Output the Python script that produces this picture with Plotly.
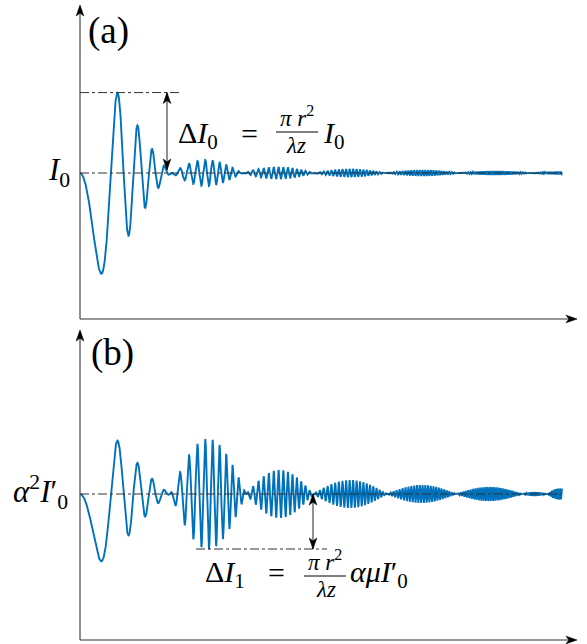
import math
import numpy as np
import plotly.graph_objects as go

# ---------------- data ----------------
rho_max = 482                 # last sampled radial position (arbitrary units, 0 = y axis)
fringe_scale = 950.0          # rho^2 per half fringe of the chirp sin(pi rho^2 / scale)
I0_level = 1.0                # normalised background intensity (I0 and alpha^2 I0')

# panel (a): zeros of the envelope and peak amplitude of each lobe (units of I0)
zeros_a = [91, 162, 234, 306, 379, 451]
lobes_a = [0.747, 0.087, 0.040, 0.027, 0.020, 0.013, 0.010]

# panel (b): zeros of the envelope and peak amplitude of each lobe
zeros_b = [90, 166, 233, 307, 376, 442, 467]
lobes_b = [0.500, 0.367, 0.160, 0.093, 0.060, 0.047, 0.013, 0.037]

label_a = "(a)"
label_b = "(b)"
ylabel_a = "<i>I</i><sub>0</sub>"
ylabel_b = "<i>α</i><sup>2</sup><i>I</i>′<sub>0</sub>"


# ---------------- helpers ----------------
def j1(t):
    s = np.zeros_like(t)
    for m in range(25):
        s += (-1) ** m * (t / 2.0) ** (2 * m + 1) / (math.factorial(m) * math.factorial(m + 1))
    return s


def envelope(rho, zeros, lobes):
    env = np.zeros_like(rho)
    z1 = zeros[0]
    m = rho <= z1
    t = 3.8317 * rho[m] / z1
    jinc = np.ones_like(t)
    nz = t > 0
    jinc[nz] = 2 * j1(t[nz]) / t[nz]
    env[m] = lobes[0] * jinc
    for i in range(len(zeros)):
        lo = zeros[i]
        hi = zeros[i + 1] if i + 1 < len(zeros) else zeros[i] + (zeros[i] - zeros[i - 1])
        mm = (rho > lo) & (rho <= hi)
        env[mm] = (-1) ** (i + 1) * lobes[i + 1] * np.sin(np.pi * (rho[mm] - lo) / (hi - lo))
    return env


rho = np.linspace(0, rho_max, 24000)
phase = np.pi * rho ** 2 / fringe_scale
Ia = I0_level - envelope(rho, zeros_a, lobes_a) * np.sin(phase)
Ib = I0_level - envelope(rho, zeros_b, lobes_b) * np.sin(phase)

peak_a = Ia.max()
lobe2 = (rho > zeros_b[0]) & (rho < zeros_b[1])
trough_b = Ib[lobe2].min()

# ---------------- layout geometry ----------------
W, H = 587, 644
ML, MR, MT, MB = 74, 4, 0, 0
PW = W - ML - MR
PX_PER_UNIT = 150.0
AXIS_X0 = 80                       # pixel column of the y axes
xr = [ML - AXIS_X0, W - MR - AXIS_X0]
X_END = 577 - AXIS_X0              # tip of the x-axis arrows


def xu(px):
    return px - AXIS_X0


def xp(px):
    return (px - ML) / PW


def ya(py):
    return I0_level + (173 - py) / PX_PER_UNIT


def yb(py):
    return I0_level + (494 - py) / PX_PER_UNIT


ya_rng = [ya(325), ya(0)]
yb_rng = [yb(644), yb(326)]
dom_a = [(H - 325) / H, 1.0]
dom_b = [0.0, (H - 326) / H]
a_axis, a_top = ya(319), ya(5)
b_axis, b_top = yb(640), yb(330)

BLUE = "#0072BD"
AX = "#333333"
FONT = "Liberation Serif"

fig = go.Figure()
fig.add_trace(go.Scatter(x=rho, y=Ia, mode="lines", line=dict(color=BLUE, width=1.9),
                         xaxis="x", yaxis="y", hoverinfo="skip", showlegend=False))
fig.add_trace(go.Scatter(x=rho, y=Ib, mode="lines", line=dict(color=BLUE, width=1.9),
                         xaxis="x2", yaxis="y2", hoverinfo="skip", showlegend=False))

shapes = []
dd = dict(color=AX, width=1, dash="dashdot")
solid = dict(color=AX, width=1.1)


def hline(xref, yref, x0, x1, y, line):
    shapes.append(dict(type="line", xref=xref, yref=yref, x0=x0, x1=x1, y0=y, y1=y, line=line, layer="above"))


def vline(xref, yref, x, y0, y1, line):
    shapes.append(dict(type="line", xref=xref, yref=yref, x0=x, x1=x, y0=y0, y1=y1, line=line, layer="above"))


# stealth arrowheads (pixel paths anchored at the tip)
HEADS = {
    "up": "M0,0 L-3.8,-11 L0,-8 L3.8,-11 Z",
    "down": "M0,0 L-3.8,11 L0,8 L3.8,11 Z",
    "right": "M0,0 L-11,3.8 L-8,0 L-11,-3.8 Z",
}


def head(xref, yref, x, y, kind):
    shapes.append(dict(type="path", xref=xref, yref=yref, xsizemode="pixel", ysizemode="pixel",
                       xanchor=x, yanchor=y, path=HEADS[kind], fillcolor="black",
                       line=dict(color="black", width=0.6), layer="above"))


# baselines and delta guide lines
hline("x", "y", 0, rho_max, I0_level, dd)
hline("x", "y", 0, xu(180), peak_a, dd)
hline("x2", "y2", 0, rho_max, I0_level, dd)
hline("x2", "y2", xu(196), xu(327), trough_b, dd)

# axes
hline("x", "y", 0, X_END - 4, a_axis, solid)
vline("x", "y", 0, a_axis, a_top - 4 / PX_PER_UNIT, solid)
head("x", "y", X_END, a_axis, "right")
head("x", "y", 0, a_top, "up")
hline("x2", "y2", 0, X_END - 4, b_axis, solid)
vline("x2", "y2", 0, b_axis, b_top - 4 / PX_PER_UNIT, solid)
head("x2", "y2", X_END, b_axis, "right")
head("x2", "y2", 0, b_top, "up")

# delta double arrows
da = I0_level + 3 / PX_PER_UNIT
vline("x", "y", xu(167), da, peak_a, dict(color="#222", width=1))
head("x", "y", xu(167), peak_a, "up")
head("x", "y", xu(167), da, "down")
vline("x2", "y2", xu(313), I0_level, trough_b, dict(color="#222", width=1))
head("x2", "y2", xu(313), I0_level, "up")
head("x2", "y2", xu(313), trough_b, "down")

# fraction bars
bar_a, bar_b = ya(132), yb(576)
hline("x", "y", xu(276), xu(318), bar_a, dict(color="black", width=1))
hline("x2", "y2", xu(304), xu(346), bar_b, dict(color="black", width=1))

ann = []


def text(t, x, y, xref, yref, size, xanchor="center", yanchor="middle"):
    ann.append(dict(text=t, x=x, y=y, xref=xref, yref=yref, showarrow=False,
                    xanchor=xanchor, yanchor=yanchor, borderpad=0,
                    font=dict(family=FONT, size=size, color="black")))


text(label_a, xu(108), ya(31), "x", "y", 37)
text(label_b, xu(112), yb(353), "x2", "y2", 37)
text(ylabel_a, xp(71), ya(172), "paper", "y", 31, "right")
text(ylabel_b, xp(69), yb(492), "paper", "y2", 31, "right")

# formula (a)
text("Δ<i>I</i><sub>0</sub>", xu(177), ya(135), "x", "y", 30, "left")
text("=", xu(249), ya(133), "x", "y", 30)
text("<i>π r</i><sup>2</sup>", xu(297), bar_a, "x", "y", 23, yanchor="bottom")
text("<i>λz</i>", xu(296), bar_a, "x", "y", 23, yanchor="top")
text("<i>I</i><sub>0</sub>", xu(322), ya(135), "x", "y", 30, "left")
# formula (b)
text("Δ<i>I</i><sub>1</sub>", xu(204), yb(574), "x2", "y2", 30, "left")
text("=", xu(276), yb(572), "x2", "y2", 30)
text("<i>π r</i><sup>2</sup>", xu(325), bar_b, "x2", "y2", 23, yanchor="bottom")
text("<i>λz</i>", xu(326), bar_b, "x2", "y2", 23, yanchor="top")
text("<i>αμI</i>′<sub>0</sub>", xu(349), yb(574), "x2", "y2", 30, "left")

fig.update_layout(
    width=W, height=H, margin=dict(l=ML, r=MR, t=MT, b=MB),
    paper_bgcolor="white", plot_bgcolor="white",
    xaxis=dict(domain=[0, 1], range=xr, visible=False, anchor="y"),
    yaxis=dict(domain=dom_a, range=ya_rng, visible=False, anchor="x"),
    xaxis2=dict(domain=[0, 1], range=xr, visible=False, anchor="y2"),
    yaxis2=dict(domain=dom_b, range=yb_rng, visible=False, anchor="x2"),
    shapes=shapes, annotations=ann, showlegend=False,
)

fig.write_html("out.html", config={"displayModeBar": False},
               post_script="document.body.style.margin='0px';")
